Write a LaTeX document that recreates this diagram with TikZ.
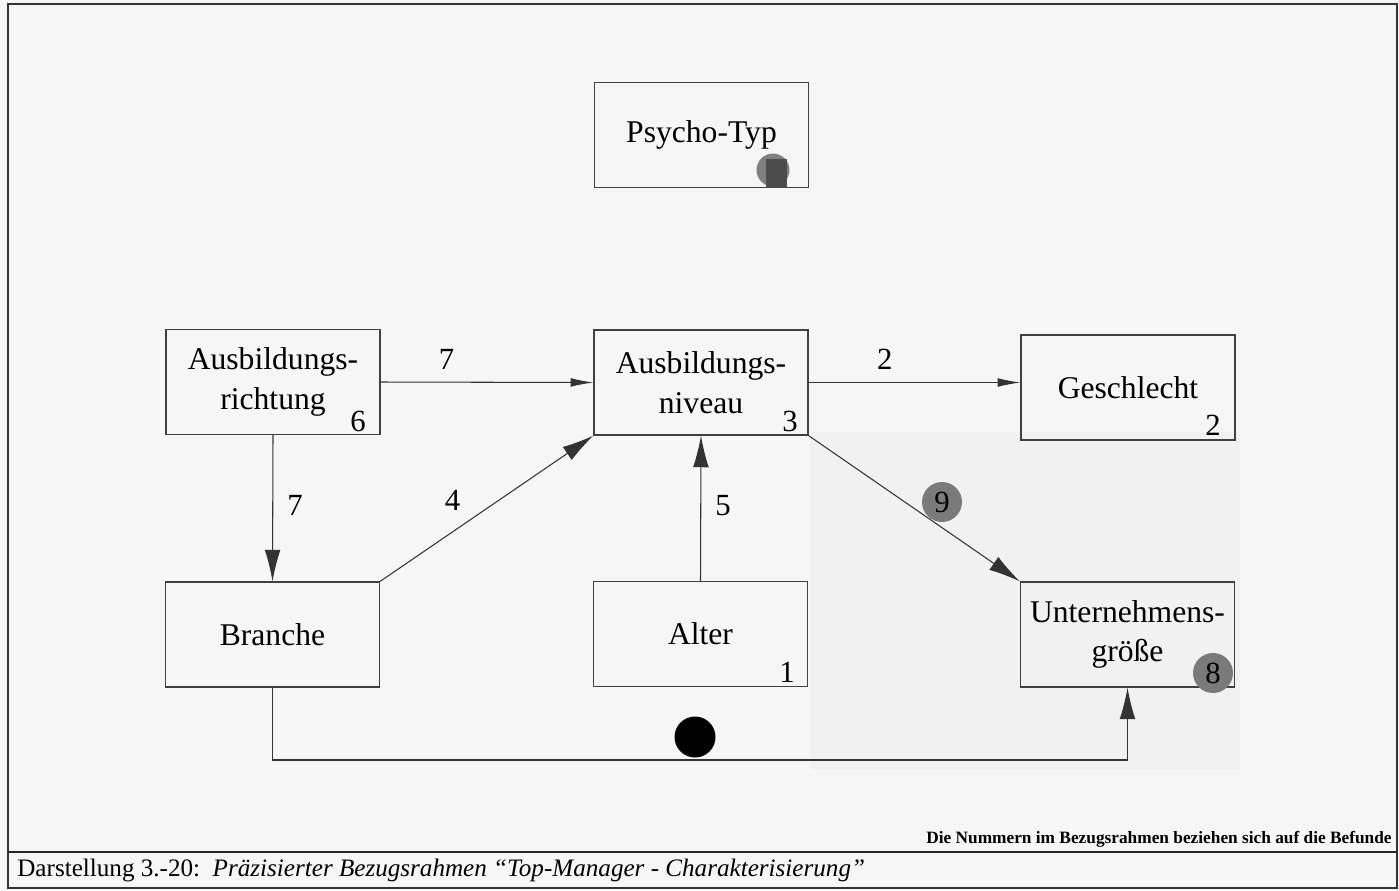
\documentclass[tikz,border=0pt]{standalone}
\usepackage{fontspec}
\setmainfont{Liberation Serif}
\usetikzlibrary{arrows.meta}

\tikzset{
  box/.style={draw=black!75, line width=0.7pt, minimum width=4.28cm,
    minimum height=2.1cm, inner sep=0pt, align=center,
    font=\fontsize{18}{22.5}\selectfont},
  num/.style={inner sep=0pt, font=\fontsize{17.5}{20}\selectfont},
  conn/.style={draw=black!80, line width=0.6pt},
  bigtip/.style={-{Latex[length=18pt,width=9pt]}},
  smalltip/.style={-{Latex[length=13pt,width=5pt]}},
  badge/.style={circle, fill=black!52, minimum size=0.8cm, inner sep=0pt,
    font=\fontsize{17.5}{20}\selectfont},
}

\begin{document}
\begin{tikzpicture}[x=0.02cm,y=-0.02cm]
\useasboundingbox (0,0) rectangle (1399,890);
\fill[gray!7] (0,0) rectangle (1399,890);
\fill[gray!11] (810,432) rectangle (1240,770);
% frame and caption
\draw[black!80, line width=1.1pt] (8,4) rectangle (1397,888);
\draw[black!85, line width=1.6pt] (8,852) -- (1397,852);
\node[anchor=south east, inner sep=0pt, font=\bfseries\fontsize{9.85}{11}\selectfont] (note) at (1392,848)
  {Die Nummern im Bezugsrahmen beziehen sich auf die Befunde};
\node[anchor=base west, inner sep=0pt, font=\fontsize{14.3}{17}\selectfont] (caption) at (17,876)
  {Darstellung 3.-20:\ \ \textit{Präzisierter Bezugsrahmen “Top-Manager - Charakterisierung”}};

% boxes
\node[box] (psycho) at (701.5,135) {Psycho-Typ};
\node[box] (richtung) at (273,382) {Ausbildungs-\\richtung};
\node[box] (niveau) at (701,382.5) {Ausbildungs-\\niveau};
\node[box] (geschlecht) at (1128,387.5) {Geschlecht};
\node[box] (branche) at (272.5,634.5) {Branche};
\node[box] (alter) at (700.5,634) {Alter};
\node[box] (groesse) at (1127.5,634.5) {Unternehmens-\\größe};

% numbers in the boxes
\node[num] (n6) at (358,421) {6};
\node[num] (n3) at (790,421) {3};
\node[num] (n2) at (1213,425) {2};
\node[num] (n1) at (787,672) {1};
\node[badge] (n8) at (1213,673) {8};
\node[circle, fill=black!50, minimum size=0.66cm, inner sep=0pt] (n0) at (773,170) {};
\fill[black!70] (766,159) rectangle (787,188);

% connectors
\draw[conn, smalltip] (richtung.east) -- node[num, pos=0.31, above=7pt] (l7a) {7} (niveau.west);
\draw[conn, smalltip] (niveau.east) -- node[num, pos=0.36, above=7pt] (l2) {2} (geschlecht.west |- niveau.east);
\draw[conn, bigtip] (richtung.south) -- node[num, pos=0.48, right=8pt] (l7b) {7} (branche.north);
\draw[conn, bigtip] (branche.north east) -- node[num, pos=0.34, above=12pt] (l4) {4} (niveau.south west);
\draw[conn, bigtip] (alter.north) -- node[num, pos=0.52, right=8pt] (l5) {5} (niveau.south);
\draw[conn, bigtip] (niveau.south east) -- (groesse.north west);
\node[badge] (n9) at (942,502) {9};
\coordinate (bus) at (700,760);
\draw[conn, bigtip] (branche.south) |- (bus) -| (groesse.south);
\node[circle, fill=black, minimum size=0.82cm, inner sep=0pt] (dot) at (695,737) {};
\end{tikzpicture}
\end{document}
